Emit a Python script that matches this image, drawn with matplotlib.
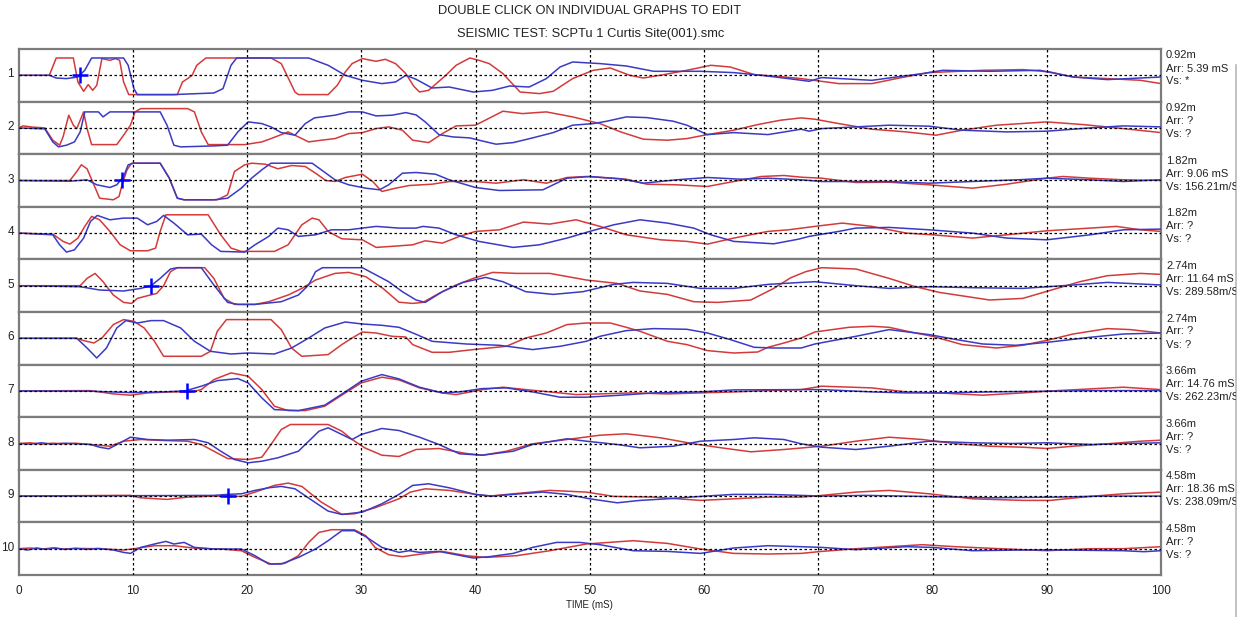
import matplotlib
matplotlib.use("Agg")
import matplotlib.pyplot as plt
from matplotlib.lines import Line2D
from matplotlib.transforms import Bbox

plt.rcParams['font.family'] = ['Liberation Sans', 'DejaVu Sans']

# ---------------- data (time in mS, amplitude in display units) ----------------
TIME_TICKS = [0, 10, 20, 30, 40, 50, 60, 70, 80, 90, 100]
TRACE_NAMES = ["1", "2", "3", "4", "5", "6", "7", "8", "9", "10"]
DEPTHS = ["0.92m", "0.92m", "1.82m", "1.82m", "2.74m", "2.74m", "3.66m", "3.66m", "4.58m", "4.58m"]
ARRIVALS = ["Arr: 5.39 mS", "Arr: ?", "Arr: 9.06 mS", "Arr: ?", "Arr: 11.64 mS",
            "Arr: ?", "Arr: 14.76 mS", "Arr: ?", "Arr: 18.36 mS", "Arr: ?"]
VELOCITIES = ["Vs: *", "Vs: ?", "Vs: 156.21m/S", "Vs: ?", "Vs: 289.58m/S",
              "Vs: ?", "Vs: 262.23m/S", "Vs: ?", "Vs: 238.09m/S", "Vs: ?"]
# picked arrival (panel index, time)
PICKS = [(0, 5.39), (2, 9.06), (4, 11.64), (6, 14.76), (8, 18.36)]

P1_RED = [(0,0),(2.7,0),(3.3,17.3),(4.8,17.3),(5.2,-6.7),(5.7,-16),(6.1,-9.3),(6.5,-15),(6.85,-10),
          (7.3,16.7),(8.0,15),(8.5,16.7),(8.85,15),(9.2,-6.7),(9.65,-19.3),(13.9,-19.3),(14.35,-6.7),
          (14.8,-3.3),(15.2,0),(15.6,10),(16.4,17.3),(22.1,17.3),(23.0,11.7),(24.2,-16.7),(24.5,-19.3),
          (27.1,-19.3),(27.9,-10),(28.6,3.3),(29.2,11.7),(30.1,16.7),(31.3,14),(32.1,16),(33.0,11.7),
          (33.9,1.7),(34.6,-11),(35.1,-16.7),(35.9,-15),(37.4,0),(38.3,10),(39.5,17.3),(40.3,15),
          (41.2,11.7),(42.4,1.7),(43.9,-16.7),(45.6,-18.3),(46.8,-16),(48.5,-3.3),(50.3,5),(51.8,7.3),
          (53.5,0),(54.7,-2.7),(56.5,0.7),(58.5,5),(60.6,10),(62.3,8.3),(64.4,0.7),(66.4,-1),(68.5,-3.3),
          (71.8,-8.3),(74.7,-8.3),(77.1,-2.7),(79.7,2.7),(84.4,5),(87.9,5.7),(90.3,3.3),(92.3,-1.7),
          (95.3,-3.3),(98.2,-5),(100,-8.3)]
P1_BLUE = [(0,0),(2.7,0),(3.3,-2.7),(4.2,-3.3),(5.2,-1.7),(5.8,5),(6.4,17.3),(9.2,17.3),(9.6,10),
           (10.1,-13.3),(10.4,-19.3),(13.6,-19.3),(14.8,-18.7),(17.1,-17.7),(17.9,-13.3),(18.6,10),
           (19.1,17.3),(25.4,17.3),(27.1,10),(28.6,0),(30.1,-5),(31.8,-8.3),(33.0,-6.7),(33.9,0),
           (34.8,-4),(36.2,-12.7),(37.7,-11.7),(39.8,-16.7),(41.5,-15),(43,-10.7),(44.7,-11.7),
           (46.2,-3.3),(47.4,8.3),(48.5,13.3),(50.9,11.7),(53.2,9.3),(55.6,4),(59.7,4),(62.6,2.7),
           (65,0),(67.4,-3.3),(69.2,-6),(70.3,-2.3),(74.7,-5),(79.1,1.7),(80.9,5),(85,4),(89.4,5),
           (92.3,-1.7),(95.3,-4.3),(98.2,-2.7),(100,-1.7)]

P2_RED = [(0,0),(0.4,2),(1.3,0.7),(2.3,0),(3.0,-12.3),(3.6,-17.3),(3.9,-9),(4.4,12.7),(4.8,2.7),
          (5.1,-0.7),(5.7,16),(6.0,-0.7),(6.4,-16.7),(8.6,-16.7),(9.2,-7.3),(9.8,2.7),(10.2,16),
          (10.7,19.3),(14.8,19.3),(15.4,16),(16.0,-4),(16.6,-16.7),(19.8,-16.7),(21.3,-14),(22.1,-10.7),
          (23.0,-6.7),(23.6,-4),(24.5,-9),(25.4,-14),(26.5,-12.3),(27.7,-10.7),(28.9,-5.7),(30.1,-4.7),
          (31.3,-0.7),(32.4,1),(33.6,-2.3),(34.5,-12.3),(35.9,-14.7),(37.1,-5.7),(38.3,2),(40,2.7),
          (42.4,16.7),(44.1,14.3),(46.2,16),(48.5,11),(50.9,4.3),(52.7,-4),(54.7,-11.3),(56.8,-12.3),
          (58.5,-10.7),(60.3,-6.7),(62.6,-2.3),(64.7,3.3),(66.7,7.7),(68.5,10),(69.7,8.7),(71.8,4.3),
          (74.7,-1.3),(77.7,-4),(80.3,-7.3),(82.6,-2.3),(85.6,2.7),(90,6),(93.2,3.3),(96.7,-0.7),
          (100,-4.7)]
P2_BLUE = [(0,0),(2.3,-1),(3.0,-14),(3.5,-19),(4.2,-17.3),(4.9,-14),(5.4,-4),(5.8,16),(7.0,16),
           (7.4,11),(8.0,16),(12.4,16),(13.0,2.7),(13.6,-17.3),(14.2,-19),(17.1,-18),(18.3,-17.3),
           (19.2,-4),(20.1,6),(21.3,4.3),(22.1,1),(23.0,-4.7),(24.2,-7.3),(25.1,4.3),(25.9,10),
           (27.7,12.7),(28.9,16),(30.1,16),(31.3,12),(32.7,12.7),(33.9,15.3),(34.8,13),(35.6,6),
           (36.8,-6.7),(38,-9),(39.5,-10),(40.3,-12.3),(41.8,-16.3),(43.3,-14.7),(45,-10),(46.8,-4.7),
           (48.5,2.7),(50.3,4.3),(51.5,6.7),(53.2,11),(55,10.3),(57.3,6.7),(58.5,2.7),(60.3,-6.7),
           (62.6,-4.7),(65.6,-6.7),(68.5,-1.3),(69.2,-3.3),(70.3,-0.7),(73.3,1),(76.2,2.7),(79.7,1.7),
           (82.6,-2.3),(86.5,-4),(90,-3.3),(93.8,0),(96.7,2),(100,1)]

P3_RED = [(0,0),(4.5,0),(5.1,9),(5.5,15.7),(6.0,11.7),(6.6,-4.3),(7.1,-17.7),(8.3,-19.3),(8.8,-16),
          (9.1,-2.7),(9.5,10.7),(9.9,17.3),(12.4,17.3),(13.2,2.3),(13.9,-17.7),(14.5,-19.3),(17.4,-19.3),
          (18.3,-14.3),(18.9,9),(19.8,15.7),(20.4,17.3),(21.6,16.3),(22.7,11.7),(23.9,15),(25.1,14),
          (26,7.3),(26.9,0),(27.7,-1),(28.6,3),(30.1,6.3),(31,-1),(31.8,-11),(33,-7.7),(34.2,-5),
          (36.2,-3.7),(37.7,-1),(40,-1),(41.8,-2.7),(44.2,0.7),(46.2,-2.7),(48,3),(49.7,4),(53.2,1.3),
          (55,-3.7),(57.6,-4.3),(60.3,-6),(62.6,-1),(65,4),(67,5),(68.5,3.3),(70.3,2.3),(73.3,-2),
          (76.2,-1.7),(79.7,-4.3),(83.5,-7.7),(86.5,-3.7),(90,2.3),(91.4,4),(93.8,2.3),(96.7,0.7),
          (100,0)]
P3_BLUE = [(0,0),(4.5,-0.7),(6.0,0.7),(6.85,-4.3),(8.0,-7),(8.6,-4.3),(9.2,4),(9.6,15.7),(10.1,17.3),
           (12.4,17.3),(13.2,2.3),(13.9,-17.7),(14.5,-19.3),(17.1,-19.3),(18.3,-17.7),(19.5,-7.7),
           (20.4,2.3),(21.3,10.7),(22.1,17.3),(25.7,17.3),(26.5,10.7),(27.7,0.7),(28.9,-4.3),
           (30.4,-7.7),(31.6,-9.3),(32.4,-4.3),(33.6,7.3),(34.8,8),(36.5,6.3),(37.7,0.7),(40,-7),
           (42.1,-10),(45.9,-9.3),(48,2.3),(50,4),(52.7,1.7),(54.7,-2.7),(57.6,0.7),(60.3,3),
           (63.2,1.3),(65.6,2.3),(68.5,0.7),(70.3,-1),(76.2,-1),(79.7,-2.7),(83.5,-1),(87.5,0.7),
           (90,2.3),(93.8,0.7),(96.7,-1),(100,0.7)]

P4_RED = [(0,0),(3.0,-1),(3.9,-8.3),(4.5,-11),(5.2,-5),(5.8,6.7),(6.4,16.7),(7.1,13.3),(8.0,1.7),
          (8.9,-11.7),(9.8,-17.7),(11.3,-17.7),(12.0,-15),(12.4,1.7),(12.9,18.3),(16.6,18.3),
          (17.7,-1.7),(18.6,-15),(19.5,-18.3),(22.4,-18.3),(23.6,-11.7),(24.8,8.3),(25.7,15),
          (26.3,13.3),(27.1,1.7),(28.3,-5.7),(30.1,-6.7),(31.3,-14.3),(33,-13),(34.5,-11.7),
          (35.6,-7.7),(37.1,-10),(38.6,-3.3),(40,1.7),(42.1,3.3),(44.2,11),(46.5,9),(48.8,13.3),
          (50.9,6.7),(53.2,-1.7),(56.2,-6.7),(58.5,-8.3),(60.3,-11),(62.6,-5),(65.6,1.7),(67.4,3.3),
          (69.7,6.7),(72.1,10),(74.7,6.7),(77.7,0),(80,-1.7),(83.5,-5),(86.5,-1.7),(90,2.3),(93.8,5),
          (96.1,6.7),(98.2,3.3),(100,1.7)]
P4_BLUE = [(0,0),(3.0,-1.7),(3.6,-11.7),(4.2,-19),(4.9,-16.7),(5.7,-5),(6.3,11.7),(6.9,17.7),
           (8.0,13.3),(9.2,15),(10.4,15),(11.3,8.3),(12.1,11.7),(12.7,17.7),(13.6,10),(14.8,-1.7),
           (16,-1),(16.9,-11.7),(17.7,-18.3),(19.8,-19),(20.7,-11.7),(21.9,-3.3),(22.7,5),(23.6,3.3),
           (24.5,-3.3),(26,-1.7),(27.4,3.3),(28.9,3.3),(31.3,6.7),(33.3,5),(34.8,5),(35.4,6.7),
           (36.8,5),(38.3,-1.7),(40.3,-8.3),(43.3,-14.3),(45.6,-11.7),(48,-5),(50,1.7),(52.1,8.3),
           (54.4,13.3),(56.8,10),(59.1,5),(60.6,-1.7),(62.6,-8.3),(66.1,-10.7),(68.3,-6),(69.2,-3.3),
           (71.8,1.7),(73.3,5),(76.2,5.7),(79.7,3.3),(83.5,0),(86.5,-5),(90,-6.7),(93.8,-1.7),
           (96.7,3.3),(100,4)]

P5_RED = [(0,0),(5.4,0),(6.0,7.3),(6.7,12.3),(7.4,4),(8.3,-9.3),(9.2,-16.7),(9.9,-17.7),(10.4,-12.7),
          (11.3,-10),(12.1,-7.7),(12.7,0),(13.3,14),(13.9,18),(16.3,18),(17.1,7.3),(18,-12.7),
          (18.9,-18.7),(20.7,-18.7),(21.9,-16),(23.6,-9.3),(24.8,-2.7),(26,5.7),(27.7,12.3),
          (28.9,13.3),(30.4,9),(31.9,-2.7),(33.3,-16.5),(34.5,-17.7),(35.4,-16.7),(36.8,-7.7),
          (38.3,0.7),(39.8,7.3),(41.5,13.3),(43.6,12.3),(46.5,12.3),(49.7,5.7),(52.4,2.3),(54.4,-5.3),
          (56.8,-8.7),(59.1,-16),(61.2,-16.7),(64.1,-14.3),(66.1,-2.7),(67.6,8),(68.9,14),(70.3,18),
          (73.3,16.7),(76.2,7.3),(78.5,-1),(80.6,-6.7),(85,-14.3),(87.9,-12.7),(90.9,-2.7),(92.9,4),
          (95.3,10),(98.2,12.3),(100,11.3)]
P5_BLUE = [(0,0),(5.4,-1),(7.1,-4.3),(9.2,-5.3),(10.7,-2.7),(11.6,0),(12.4,7.3),(13.3,16.7),
           (13.9,18),(16,18),(17.1,0.7),(18.3,-16.7),(19.2,-18.7),(20.7,-18.7),(23,-16),(24.5,-9.3),
           (25.4,0.7),(26,14),(26.6,18),(30.1,18),(31.3,10.7),(32.4,4),(33.6,-6),(34.8,-14.3),
           (35.6,-16.7),(37.1,-6),(38.9,3.3),(40.9,8.3),(42.4,4),(44.4,-6),(46.8,-8.7),(49.4,-6),
           (52.1,1.3),(53.8,3.3),(56.8,2.3),(59.7,-2.7),(62.6,-2.7),(65.6,1.3),(68.5,3.3),(69.7,4),
           (73.3,0),(76.2,-2.7),(79.7,-1),(83.5,-2),(87.9,-2.7),(92.3,0.7),(95.3,3.3),(100,0.7)]

P6_RED = [(0,0),(5.1,0),(5.7,-2.3),(6.6,-4.7),(7.3,0.3),(8.3,13.7),(9.2,18.7),(10.1,17),(11,10.3),
          (11.9,-3),(12.7,-18),(16,-18),(16.8,-13),(17.4,7),(18.2,18.7),(22.1,18.7),(23,8.7),
          (23.9,-9.7),(24.8,-18),(27.1,-16.3),(28.3,-6.3),(29.2,0.3),(30.1,6.3),(31.3,5.3),(32.7,2),
          (33.9,1.3),(34.5,-6.3),(36.2,-14),(37.7,-14),(39.8,-11.3),(41.2,-9.7),(42.7,-8),(44.4,0.3),
          (46.2,5.3),(48,13.7),(49.7,15.3),(51.8,15.3),(53.2,11),(54.4,7),(56.8,-3),(58.5,-6.3),
          (60.3,-12.3),(62.6,-14.7),(64.7,-13.7),(65.6,-9),(67,-4.7),(68.5,0.3),(69.7,6.3),(72.7,11),
          (74.7,12),(76.2,11),(78.5,5.3),(80,2),(82.6,-6.3),(85.6,-9.7),(87.9,-7),(90.3,-1.3),
          (92.3,4.3),(95.3,9.7),(97.3,8.7),(100,5.3)]
P6_BLUE = [(0,0),(5.1,0),(6,-9.7),(6.85,-19.7),(7.7,-9.7),(8.6,10.3),(9.4,17.7),(10.4,15.3),
           (11.6,17.7),(12.7,17.7),(14.2,10.3),(15.4,-3),(16.8,-13),(18.6,-15.7),(20.1,-14.7),
           (22.4,-15.7),(23.9,-9.7),(25.4,0.3),(26.8,10.3),(28.6,16.3),(30.1,14.3),(31.8,13),
           (33.3,11),(34.8,4),(36.2,-3),(39.2,-5.7),(42.1,-7),(45,-11.3),(47.4,-8),(49.7,-3),(50.9,2),
           (53.2,7.7),(55.6,9.7),(58.5,9),(60.3,5.3),(62.3,-1.3),(64.4,-9),(66.1,-9.7),(68.5,-9.7),
           (69.7,-5.7),(73.3,2),(76.2,8.7),(79.7,3.7),(82.1,-1.3),(84.4,-5.7),(87.3,-7),(90.3,-3.7),
           (93.8,1),(96.7,4.3),(100,5.3)]

P7_RED = [(0,0),(6.3,0.3),(8.3,-3),(9.8,-4.3),(11.3,-2),(13.3,-1),(15.1,-1),(16,1.3),(17.1,11.3),
          (18.6,18),(20.1,14.7),(21.3,1.3),(22.4,-15.3),(23.6,-19.7),(25.1,-19.7),(26.8,-15.3),
          (28.6,-2),(30,8),(31.8,13.7),(33.3,11),(35.1,3),(37.1,-2),(38.3,-3.7),(40.6,1.3),(42.4,3.7),
          (44.4,1.3),(46.5,-1),(48.8,-3.7),(50.9,-3),(53.8,-2),(56.8,-3),(59.7,-2),(62.6,-1),
          (65.6,0.3),(68.5,1.3),(70.3,4.7),(74.7,3),(77.7,-1),(80.6,-2),(84.4,-4.3),(87.9,-2),
          (90.9,0.3),(96.7,3.7),(100,1.3)]
P7_BLUE = [(0,0),(6.3,-0.3),(9.8,-1.7),(12.7,-1),(14.6,0),(16,4.7),(17.4,10.3),(19.2,12.3),(20.1,8),
           (21.3,-7),(22.4,-18.7),(24.5,-19.7),(26.8,-14.3),(28.6,-1),(30,9.7),(31.8,16.3),(33.3,12),
           (35.1,3.7),(37.1,-2),(38.6,-1),(40.6,2.3),(42.7,3),(45,-1),(47.4,-6.3),(49.7,-6.3),
           (52.7,-4.3),(55.6,-2),(59.7,-1),(62.6,1),(68.5,1.3),(70.3,1.3),(74.7,-1),(77.7,-2),
           (80.6,-2),(85,-1),(90,-0.3),(94,0.3),(100,0.3)]

P8_RED = [(0,0),(1,0.7),(2,-0.7),(3,0.3),(4,-0.3),(5,0.3),(6.3,-1),(8,-2.7),(9.2,2.3),(10.7,4),
          (12.7,3),(14.8,2.3),(16,-1),(17.1,-7.7),(18.3,-15),(20.1,-16),(21.3,-13.7),(22.1,-1),
          (23,14),(23.8,19),(27.1,19),(28.3,12.3),(29.2,4),(30.3,-4.3),(31.8,-11.7),(33.3,-13),
          (34.8,-6),(36.8,-5),(39.2,-10),(40.6,-11.7),(42.7,-7.7),(45,-0.3),(48,4),(50.9,8.3),
          (53.2,9.7),(56.2,5.7),(59.1,-0.3),(61.5,-4.3),(64.1,-8.3),(67,-6),(70.3,-2.7),(73.3,2.3),
          (76.2,6.3),(79.1,4),(82.1,-0.3),(85,-2.7),(87.9,-3.7),(90,-5),(92.3,-2.7),(95.3,-0.3),
          (98.2,2.3),(100,3.3)]
P8_BLUE = [(0,0),(1,-0.7),(2,0.7),(3,-0.7),(4,0.3),(5,-0.3),(6.3,-1),(7.1,-3.7),(7.9,-5.3),(8.9,0.7),
           (9.8,6.3),(11.3,4),(13,3.3),(15.4,4),(16.6,0.7),(17.7,-7.7),(18.9,-16),(20.1,-19.3),
           (21.3,-17.7),(22.7,-14.3),(24.5,-7.7),(25.4,2.3),(26.3,12.3),(27.1,15.7),(28,10.7),(29.2,4),
           (30,9),(31.8,15),(33.3,13),(35.1,6.3),(36.8,-1),(38.6,-10.3),(40.6,-11.7),(43.3,-7.7),
           (45,-1),(48,4.7),(49.7,2.3),(52.4,-1),(54.4,-4.3),(57.3,-2.7),(59.7,2.3),(62.6,4),(64.4,5.7),
           (67,4),(68.5,-0.3),(70.3,-3.7),(73.3,-6),(76.2,-2.7),(79.7,2.3),(83.5,0.7),(87,0),(90,0.7),
           (94,-1),(97,0),(100,0.7)]

P9_RED = [(0,0),(8.6,0.7),(9.8,0.7),(10.7,-1.7),(13,-3.3),(14.8,-1),(17.1,0),(19.5,-0.3),(20.7,4),
          (22.4,10.7),(23.6,13),(24.8,9.7),(26.5,-6),(28.3,-18.3),(29.4,-17.7),(31.2,-11.7),(33.3,-2.7),
          (34.3,4),(35.6,7.3),(37.7,5.7),(40,1.7),(41.2,0),(43.3,2.3),(46.5,5.7),(49.7,4),(52.1,-0.3),
          (55.6,-1),(59.7,-4.3),(62.6,-2.7),(65.6,-1),(68.5,-1),(70.3,0.7),(73.3,4),(76.2,5.7),
          (79.7,2.3),(83.5,-2.7),(87.9,-4.3),(90.3,-4.3),(93.8,-0.3),(96.7,2.3),(100,4)]
P9_BLUE = [(0,0),(17.1,0.7),(18.3,1.7),(19.5,2.3),(20.7,5.7),(21.9,8.3),(23,9.7),(24.2,7.3),
           (25.7,-4.3),(27.1,-15),(28.3,-18.3),(30.1,-16),(31.8,-7.7),(33.3,1.7),(34.5,10.7),
           (35.9,12.3),(37.7,8.3),(40,1.7),(41.5,0),(43.9,2.3),(45.9,4),(48,1.7),(50,-2.7),(52.4,-6.7),
           (54.4,-4.3),(56.8,-2.7),(59.7,-0.3),(62.6,1.7),(65.6,1.7),(68.5,0.7),(70.3,0),(74.1,0.7),
           (79.1,-0.3),(85,-1.7),(90.9,-1),(95,0),(100,0)]

P10_RED = [(0,0),(1,0.7),(2,-0.3),(3,0.7),(4,-0.3),(5,0.3),(7,0),(9.2,-1.3),(10.1,0),(11.9,3),
           (13.6,3),(15.6,0.3),(17.7,-0.3),(19.5,-2),(20.7,-8.7),(22.1,-15.3),(23.3,-14.7),(24.5,-7),
           (25.4,6.3),(26.3,16.3),(27.4,19),(29.4,19),(30.4,13),(31.2,1.3),(32.4,-6),(33.6,-8),
           (34.8,-6),(37.1,-2.7),(39.2,-7),(40.9,-8.7),(43.6,-7),(46.5,-2),(49.7,4.7),(53.8,8),
           (56.8,5.3),(59.7,-0.3),(62.6,-4.7),(65.6,-5.3),(68.5,-4.7),(70.3,-2.7),(73.3,0),(76.2,2),
           (79.1,4),(82,2),(86.5,-0.3),(90,-2),(93.8,0),(96.7,0),(100,2)]
P10_BLUE = [(0,0),(0.8,-1.3),(1.6,0.7),(2.4,-0.7),(3.2,0.7),(4,-0.7),(5,0.3),(6,-0.7),(7,0.3),
            (8.3,-1.3),(9.2,-3.7),(9.8,-4.7),(10.7,1.3),(11.9,4.7),(12.9,7.3),(13.6,4.7),(14.5,6.3),
            (15.4,1.3),(17.1,-0.3),(19.5,-0.3),(20.7,-7),(21.9,-15.3),(23,-15.3),(24.5,-8.7),(26,-0.3),
            (27.1,8),(28.3,18),(29.4,18),(30.4,12),(31.8,1.3),(33.3,-3.7),(34.2,-2),(35.1,-3.7),
            (36.8,-2.7),(39.8,-9.3),(41.2,-8),(43.3,-4.7),(45,1.3),(47.1,6.3),(49.1,6.3),(50.9,4),
            (53.8,-2),(56.8,-2.7),(59.7,-4.7),(62.6,0.7),(65.6,3),(68.5,2),(70.3,1.3),(73.3,-1),
            (77.7,2),(80,1.3),(83.5,-2),(87.9,-1.3),(90.9,-1.3),(96.7,-2),(98.5,-3),(100,-2)]

RED_TRACES = [P1_RED, P2_RED, P3_RED, P4_RED, P5_RED, P6_RED, P7_RED, P8_RED, P9_RED, P10_RED]
BLUE_TRACES = [P1_BLUE, P2_BLUE, P3_BLUE, P4_BLUE, P5_BLUE, P6_BLUE, P7_BLUE, P8_BLUE, P9_BLUE, P10_BLUE]

# ---------------- figure ----------------
W, H = 1244, 617
DPI = 100
fig = plt.figure(figsize=(W / DPI, H / DPI), dpi=DPI, facecolor='white')

def fx(px):
    return px / W

def fy(py):
    return 1 - py / H

LEFT, RIGHT = 18.5, 1161
TOP, BOTTOM = 49, 575
PH = (BOTTOM - TOP) / 10.0

RED = '#d43a3a'
BLUE = '#3a3ac4'
TXT = '#222222'
SPINE = '#7c7c7c'
DOT = (0, (2, 2))

for i in range(10):
    top = TOP + i * PH
    ax = fig.add_axes([fx(LEFT), fy(top + PH), fx(RIGHT - LEFT), PH / H])
    ax.set_xlim(0, 100)
    ax.set_ylim(-26.3, 26.3)
    for s in ax.spines.values():
        s.set_color(SPINE)
        s.set_linewidth(1.6)
    ax.set_yticks([])
    rt, rv = zip(*RED_TRACES[i])
    bt, bv = zip(*BLUE_TRACES[i])
    ax.plot(rt, rv, color=RED, lw=1.1, zorder=2, solid_joinstyle='round')
    ax.plot(bt, bv, color=BLUE, lw=1.1, zorder=3, solid_joinstyle='round')
    ax.axhline(0, color='black', lw=0.9, ls=DOT, zorder=4)
    for t in TIME_TICKS[1:-1]:
        ax.axvline(t, color='black', lw=0.9, ls=DOT, zorder=4)
    for (pi, pt) in PICKS:
        if pi == i:
            ax.plot([pt], [0], marker='+', ms=11, mew=1.8, color='#0000ff', zorder=6)
    if i == 9:
        ax.set_xticks(TIME_TICKS)
        ax.set_xticklabels([str(t) for t in TIME_TICKS], fontsize=8.5, color=TXT)
        ax.tick_params(axis='x', length=0, pad=7)
    else:
        ax.set_xticks([])
    # panel number
    fig.text(fx(14), fy(top + PH / 2 - 1), TRACE_NAMES[i], ha='right', va='center',
             fontsize=8.5, color=TXT)
    # info text (clipped at the window border)
    clip = Bbox.from_extents(0, 0, 1236, H)
    for k, s in enumerate([DEPTHS[i], ARRIVALS[i], VELOCITIES[i]]):
        t = fig.text(fx(1166), fy(top + 6.5 + 13 * k), s, ha='left', va='center',
                     fontsize=8, color=TXT)
        t.set_clip_box(clip)
        t.set_clip_on(True)

fig.text(fx(590), fy(11), "DOUBLE CLICK ON INDIVIDUAL GRAPHS TO EDIT", ha='center', va='center',
         fontsize=9.3, color=TXT)
fig.text(fx(591), fy(34), "SEISMIC TEST: SCPTu 1 Curtis Site(001).smc", ha='center', va='center',
         fontsize=9.3, color=TXT)
fig.text(fx(589), fy(605), "TIME (mS)", ha='center', va='center', fontsize=7, color=TXT)

fig.add_artist(Line2D([fx(1236), fx(1236)], [fy(65), 0], transform=fig.transFigure,
                      color='#b8b8b8', lw=1.2))

fig.savefig('out.png', dpi=DPI, facecolor='white')
